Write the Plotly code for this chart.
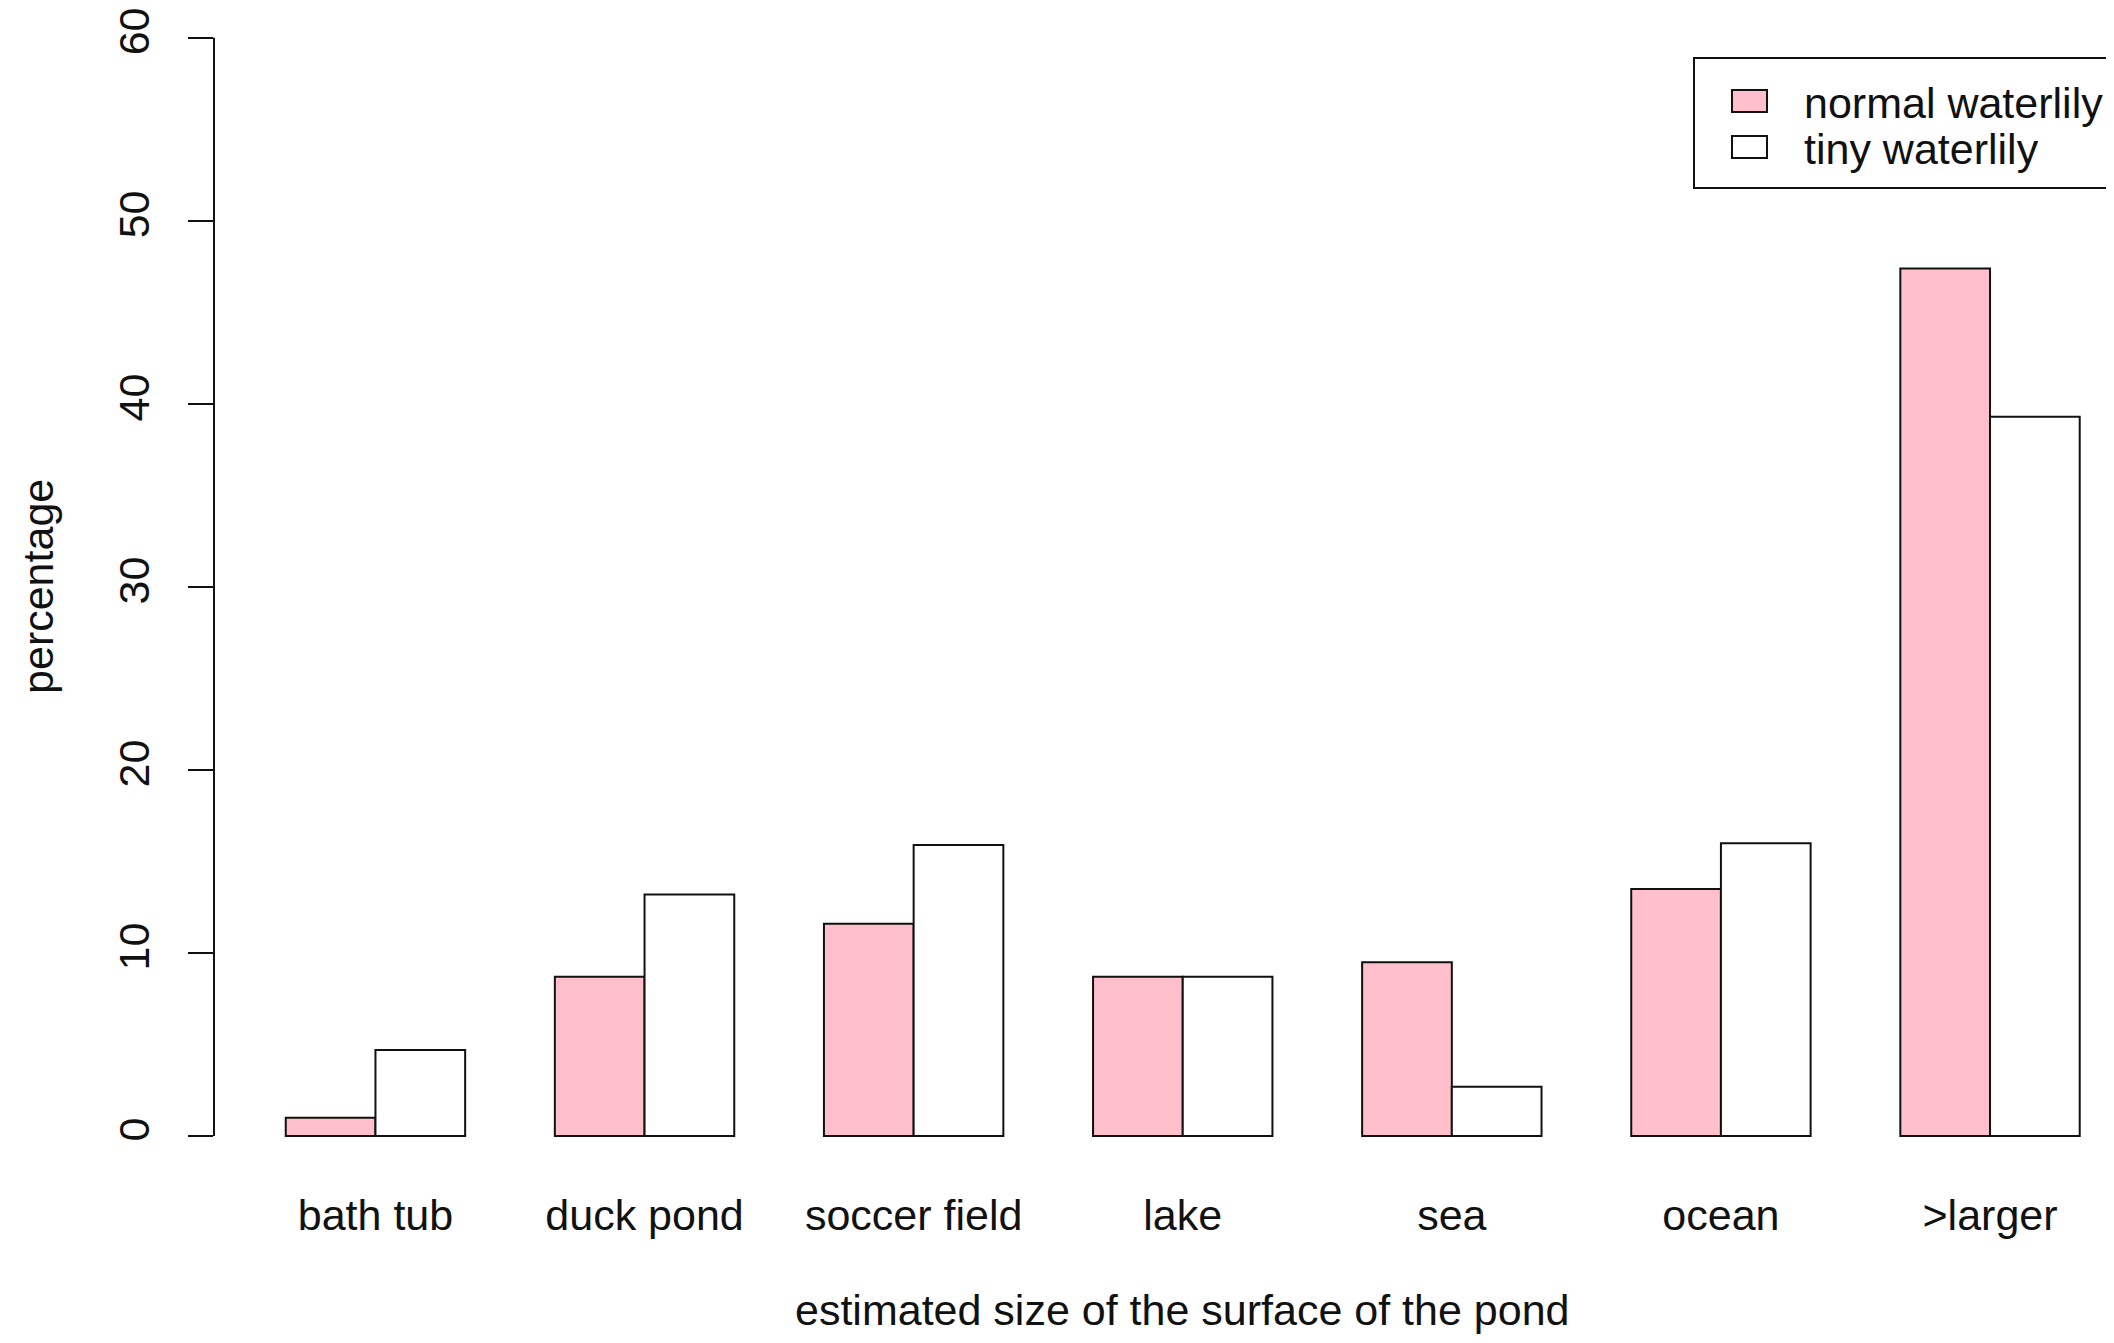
import plotly.graph_objects as go

# ---- data ----
categories = ["bath tub", "duck pond", "soccer field", "lake", "sea", "ocean", ">larger"]
normal_waterlily = [1.0, 8.7, 11.6, 8.7, 9.5, 13.5, 47.4]
tiny_waterlily = [4.7, 13.2, 15.9, 8.7, 2.7, 16.0, 39.3]
series_names = ["normal waterlily", "tiny waterlily"]
y_ticks = [0, 10, 20, 30, 40, 50, 60]

# ---- layout constants (pixels, page coordinates of the 2114x1343 window) ----
OFF = 8                      # default body margin of the page
W, H = 2114 - 2 * OFF, 1343 - 2 * OFF
PLOT_LEFT, PLOT_TOP, PLOT_BOTTOM = 214, OFF, 1180.5
ML = PLOT_LEFT - OFF
MT = 0
MB = H - (PLOT_BOTTOM - OFF)
MR = 0
FONT = "Liberation Sans, Arial, Helvetica, sans-serif"
FS = 43
INK = "#111111"
PINK = "#FFC0CB"

plot_w = W - ML - MR
plot_h = H - MT - MB


def px_x(p):
    return (p - OFF - ML) / plot_w


def px_y(p):
    return (H - MB - (p - OFF)) / plot_h


fig = go.Figure()
fig.add_trace(go.Bar(x=categories, y=normal_waterlily, name=series_names[0],
                     marker=dict(color=PINK, line=dict(color=INK, width=2))))
fig.add_trace(go.Bar(x=categories, y=tiny_waterlily, name=series_names[1],
                     marker=dict(color="white", line=dict(color=INK, width=2))))

fig.update_layout(
    width=W, height=H,
    margin=dict(l=ML, r=MR, t=MT, b=MB, pad=0),
    paper_bgcolor="white", plot_bgcolor="white",
    barmode="group", bargap=1/3, bargroupgap=0,
    showlegend=False,
    font=dict(family=FONT, size=FS, color=INK),
)
fig.update_xaxes(range=[-0.6, 6.431], showline=False, showgrid=False, zeroline=False,
                 ticks="", tickfont=dict(size=FS, family=FONT, color=INK),
                 ticklabelstandoff=6)
fig.update_yaxes(range=[-2.4, 61.63], showline=False, showgrid=False, zeroline=False,
                 tickvals=y_ticks, ticks="outside", ticklen=25, tickwidth=2, tickcolor=INK,
                 tickangle=-90, tickfont=dict(size=FS, family=FONT, color=INK),
                 ticklabelstandoff=22, ticklabeloverflow="allow")

# y axis line spanning tick range only (R style)
fig.add_shape(type="line", xref="paper", yref="y", x0=0, x1=0,
              y0=min(y_ticks), y1=max(y_ticks), line=dict(color=INK, width=2))

# axis titles
fig.add_annotation(text="estimated size of the surface of the pond", xref="paper", yref="paper",
                   x=px_x(1182), y=px_y(1311), xanchor="center", yanchor="middle",
                   showarrow=False, font=dict(size=FS, family=FONT, color=INK))
fig.add_annotation(text="percentage", xref="paper", yref="y",
                   x=px_x(38), y=30, textangle=-90, xanchor="center", yanchor="middle",
                   showarrow=False, font=dict(size=FS, family=FONT, color=INK))

# manual legend (R style)
fig.add_shape(type="rect", xref="paper", yref="paper",
              x0=px_x(1694), x1=px_x(2140), y0=px_y(188), y1=px_y(58),
              line=dict(color=INK, width=2), fillcolor="white")
legend_rows = [(series_names[0], PINK, 101), (series_names[1], "white", 147)]
for name, col, cy in legend_rows:
    fig.add_shape(type="rect", xref="paper", yref="paper",
                  x0=px_x(1732), x1=px_x(1767), y0=px_y(cy + 11), y1=px_y(cy - 11),
                  line=dict(color=INK, width=2), fillcolor=col)
    fig.add_annotation(text=name, xref="paper", yref="paper",
                       x=px_x(1802), y=px_y(cy + 2), xanchor="left", yanchor="middle",
                       showarrow=False, font=dict(size=FS, family=FONT, color=INK))

fig.write_html("out.html")
